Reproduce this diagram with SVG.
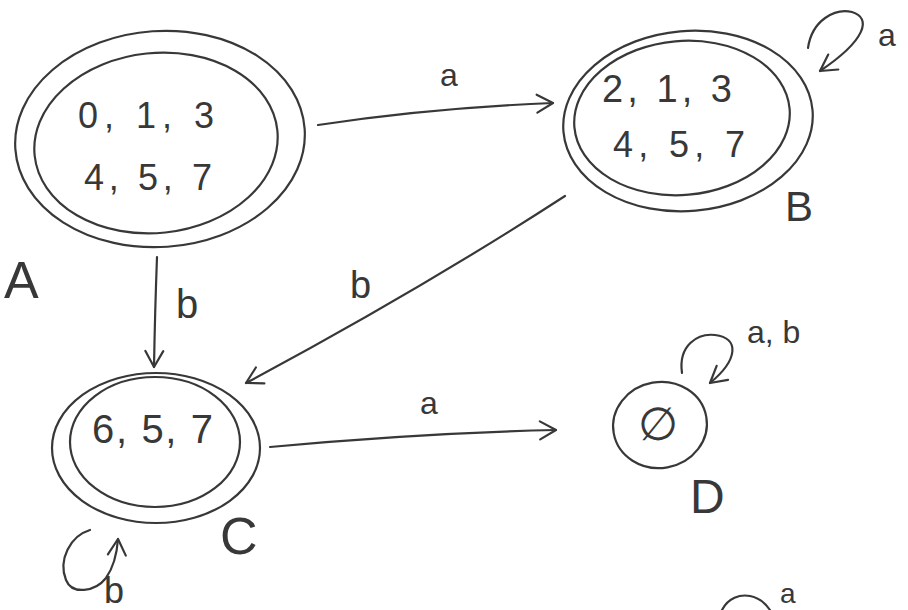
<svg xmlns="http://www.w3.org/2000/svg" width="908" height="610" viewBox="0 0 908 610">
<style>
.ln{fill:none;stroke:#383838;stroke-width:2.2;stroke-linecap:round;stroke-linejoin:round}
.tx{font-family:"Liberation Sans",Arial,sans-serif;fill:#383838}
</style>
<defs>
<marker id="ah" markerUnits="userSpaceOnUse" markerWidth="24" markerHeight="24" viewBox="0 0 24 24" refX="20" refY="12" orient="auto">
<path d="M4,3 L20,12 L4,21" fill="none" stroke="#383838" stroke-width="2.2" stroke-linecap="round" stroke-linejoin="round"/>
</marker>
</defs>
<rect width="908" height="610" fill="#ffffff"/>
<g id="A">
<ellipse class="ln" cx="160" cy="139" rx="145" ry="108" transform="rotate(-4 160 139)"/>
<ellipse class="ln" cx="156" cy="143" rx="122" ry="90" transform="rotate(-6 156 143)"/>
<text class="tx" x="78" y="128" font-size="36" textLength="136" lengthAdjust="spacing">0, 1, 3</text>
<text class="tx" x="84" y="190" font-size="36" textLength="128" lengthAdjust="spacing">4, 5, 7</text>
<text class="tx" x="4" y="298" font-size="52">A</text>
</g>
<g id="B">
<ellipse class="ln" cx="688" cy="121" rx="125" ry="90" transform="rotate(-5 688 121)"/>
<ellipse class="ln" cx="682" cy="118" rx="108" ry="77" transform="rotate(-5 682 118)"/>
<text class="tx" x="602" y="102" font-size="38" textLength="130" lengthAdjust="spacing">2, 1, 3</text>
<text class="tx" x="613" y="157" font-size="36" textLength="132" lengthAdjust="spacing">4, 5, 7</text>
<text class="tx" x="785" y="221" font-size="42">B</text>
</g>
<g id="C">
<ellipse class="ln" cx="156" cy="448" rx="104" ry="75"/>
<ellipse class="ln" cx="155" cy="442" rx="85" ry="65"/>
<text class="tx" x="92" y="443" font-size="40" textLength="121" lengthAdjust="spacing">6, 5, 7</text>
<text class="tx" x="220" y="554" font-size="52">C</text>
</g>
<g id="D">
<ellipse class="ln" cx="660" cy="425" rx="47" ry="43" transform="rotate(-10 660 425)"/>
<text class="tx" x="658" y="440" font-size="46" text-anchor="middle" font-family="DejaVu Sans, sans-serif">∅</text>
<text class="tx" x="690" y="513" font-size="48">D</text>
</g>
<g id="connectors">
<path class="ln" d="M318,125 Q430,108 553,103" marker-end="url(#ah)"/>
<text class="tx" x="440" y="86" font-size="32">a</text>
<path class="ln" d="M157,257 Q155,310 154,367" marker-end="url(#ah)"/>
<text class="tx" x="176" y="318" font-size="40">b</text>
<path class="ln" d="M565,196 Q420,290 246,383" marker-end="url(#ah)"/>
<text class="tx" x="350" y="298" font-size="38">b</text>
<path class="ln" d="M270,447 Q420,433 556,430" marker-end="url(#ah)"/>
<text class="tx" x="420" y="414" font-size="32">a</text>
<path class="ln" d="M808,48 C812,20 835,8 852,12 C872,18 866,40 820,71" marker-end="url(#ah)"/>
<text class="tx" x="878" y="46" font-size="32">a</text>
<path class="ln" d="M682,373 C678,345 698,333 715,335 C740,338 738,360 710,383" marker-end="url(#ah)"/>
<text class="tx" x="747" y="343" font-size="32">a, b</text>
<path class="ln" d="M90,530 C70,536 58,560 66,580 C72,595 95,592 106,578 C113,568 117,553 118,539" marker-end="url(#ah)"/>
<text class="tx" x="104" y="603" font-size="36">b</text>
<path class="ln" d="M722,610 C728,598 740,594 750,596 C760,598 766,604 770,610"/>
<text class="tx" x="780" y="603" font-size="28">a</text>
</g>
</svg>
